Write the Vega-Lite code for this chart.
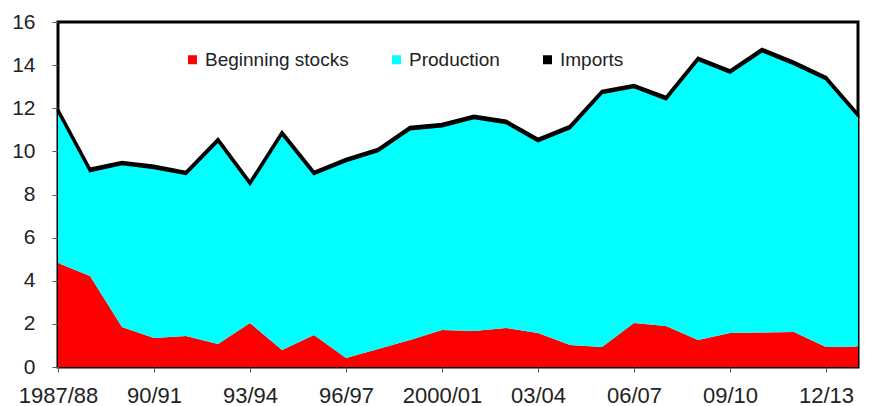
{
  "$schema": "https://vega.github.io/schema/vega-lite/v6.json",
  "width": 800,
  "height": 345,
  "autosize": "none",
  "padding": {"left": 58, "top": 22, "right": 29, "bottom": 39},
  "background": "white",
  "config": {
    "font": "Liberation Sans",
    "view": {"stroke": "black", "strokeWidth": 3}
  },
  "data": {
    "values": [
      {"year": "1987/88", "series": "Beginning stocks", "rank": 1, "value": 4.82},
      {"year": "1987/88", "series": "Production", "rank": 2, "value": 7.03},
      {"year": "1987/88", "series": "Imports", "rank": 3, "value": 0.1},
      {"year": "88/89", "series": "Beginning stocks", "rank": 1, "value": 4.22},
      {"year": "88/89", "series": "Production", "rank": 2, "value": 4.87},
      {"year": "88/89", "series": "Imports", "rank": 3, "value": 0.1},
      {"year": "89/90", "series": "Beginning stocks", "rank": 1, "value": 1.86},
      {"year": "89/90", "series": "Production", "rank": 2, "value": 7.55},
      {"year": "89/90", "series": "Imports", "rank": 3, "value": 0.1},
      {"year": "90/91", "series": "Beginning stocks", "rank": 1, "value": 1.34},
      {"year": "90/91", "series": "Production", "rank": 2, "value": 7.89},
      {"year": "90/91", "series": "Imports", "rank": 3, "value": 0.1},
      {"year": "91/92", "series": "Beginning stocks", "rank": 1, "value": 1.44},
      {"year": "91/92", "series": "Production", "rank": 2, "value": 7.51},
      {"year": "91/92", "series": "Imports", "rank": 3, "value": 0.1},
      {"year": "92/93", "series": "Beginning stocks", "rank": 1, "value": 1.07},
      {"year": "92/93", "series": "Production", "rank": 2, "value": 9.41},
      {"year": "92/93", "series": "Imports", "rank": 3, "value": 0.1},
      {"year": "93/94", "series": "Beginning stocks", "rank": 1, "value": 2.04},
      {"year": "93/94", "series": "Production", "rank": 2, "value": 6.44},
      {"year": "93/94", "series": "Imports", "rank": 3, "value": 0.1},
      {"year": "94/95", "series": "Beginning stocks", "rank": 1, "value": 0.79},
      {"year": "94/95", "series": "Production", "rank": 2, "value": 10.01},
      {"year": "94/95", "series": "Imports", "rank": 3, "value": 0.1},
      {"year": "95/96", "series": "Beginning stocks", "rank": 1, "value": 1.48},
      {"year": "95/96", "series": "Production", "rank": 2, "value": 7.47},
      {"year": "95/96", "series": "Imports", "rank": 3, "value": 0.1},
      {"year": "96/97", "series": "Beginning stocks", "rank": 1, "value": 0.42},
      {"year": "96/97", "series": "Production", "rank": 2, "value": 9.13},
      {"year": "96/97", "series": "Imports", "rank": 3, "value": 0.1},
      {"year": "97/98", "series": "Beginning stocks", "rank": 1, "value": 0.83},
      {"year": "97/98", "series": "Production", "rank": 2, "value": 9.18},
      {"year": "97/98", "series": "Imports", "rank": 3, "value": 0.1},
      {"year": "98/99", "series": "Beginning stocks", "rank": 1, "value": 1.25},
      {"year": "98/99", "series": "Production", "rank": 2, "value": 9.78},
      {"year": "98/99", "series": "Imports", "rank": 3, "value": 0.1},
      {"year": "2000/01", "series": "Beginning stocks", "rank": 1, "value": 1.72},
      {"year": "2000/01", "series": "Production", "rank": 2, "value": 9.45},
      {"year": "2000/01", "series": "Imports", "rank": 3, "value": 0.1},
      {"year": "01/02", "series": "Beginning stocks", "rank": 1, "value": 1.67},
      {"year": "01/02", "series": "Production", "rank": 2, "value": 9.88},
      {"year": "01/02", "series": "Imports", "rank": 3, "value": 0.1},
      {"year": "02/03", "series": "Beginning stocks", "rank": 1, "value": 1.81},
      {"year": "02/03", "series": "Production", "rank": 2, "value": 9.51},
      {"year": "02/03", "series": "Imports", "rank": 3, "value": 0.1},
      {"year": "03/04", "series": "Beginning stocks", "rank": 1, "value": 1.58},
      {"year": "03/04", "series": "Production", "rank": 2, "value": 8.9},
      {"year": "03/04", "series": "Imports", "rank": 3, "value": 0.1},
      {"year": "04/05", "series": "Beginning stocks", "rank": 1, "value": 1.02},
      {"year": "04/05", "series": "Production", "rank": 2, "value": 10.06},
      {"year": "04/05", "series": "Imports", "rank": 3, "value": 0.1},
      {"year": "05/06", "series": "Beginning stocks", "rank": 1, "value": 0.93},
      {"year": "05/06", "series": "Production", "rank": 2, "value": 11.78},
      {"year": "05/06", "series": "Imports", "rank": 3, "value": 0.1},
      {"year": "06/07", "series": "Beginning stocks", "rank": 1, "value": 2.04},
      {"year": "06/07", "series": "Production", "rank": 2, "value": 10.94},
      {"year": "06/07", "series": "Imports", "rank": 3, "value": 0.1},
      {"year": "07/08", "series": "Beginning stocks", "rank": 1, "value": 1.9},
      {"year": "07/08", "series": "Production", "rank": 2, "value": 10.52},
      {"year": "07/08", "series": "Imports", "rank": 3, "value": 0.1},
      {"year": "08/09", "series": "Beginning stocks", "rank": 1, "value": 1.25},
      {"year": "08/09", "series": "Production", "rank": 2, "value": 12.99},
      {"year": "08/09", "series": "Imports", "rank": 3, "value": 0.1},
      {"year": "09/10", "series": "Beginning stocks", "rank": 1, "value": 1.58},
      {"year": "09/10", "series": "Production", "rank": 2, "value": 12.07},
      {"year": "09/10", "series": "Imports", "rank": 3, "value": 0.1},
      {"year": "10/11", "series": "Beginning stocks", "rank": 1, "value": 1.6},
      {"year": "10/11", "series": "Production", "rank": 2, "value": 13.05},
      {"year": "10/11", "series": "Imports", "rank": 3, "value": 0.1},
      {"year": "11/12", "series": "Beginning stocks", "rank": 1, "value": 1.62},
      {"year": "11/12", "series": "Production", "rank": 2, "value": 12.43},
      {"year": "11/12", "series": "Imports", "rank": 3, "value": 0.1},
      {"year": "12/13", "series": "Beginning stocks", "rank": 1, "value": 0.93},
      {"year": "12/13", "series": "Production", "rank": 2, "value": 12.42},
      {"year": "12/13", "series": "Imports", "rank": 3, "value": 0.1},
      {"year": "13/14", "series": "Beginning stocks", "rank": 1, "value": 0.95},
      {"year": "13/14", "series": "Production", "rank": 2, "value": 10.69},
      {"year": "13/14", "series": "Imports", "rank": 3, "value": 0.1}
    ]
  },
  "mark": {"type": "area", "strokeWidth": 2.5, "strokeJoin": "miter"},
  "encoding": {
    "x": {
      "field": "year",
      "type": "ordinal",
      "sort": null,
      "scale": {"type": "point", "padding": 0},
      "axis": {
        "title": null,
        "values": ["1987/88", "90/91", "93/94", "96/97", "2000/01", "03/04", "06/07", "09/10", "12/13"],
        "labelAngle": 0,
        "labelFontSize": 22,
        "labelColor": "#222222",
        "labelPadding": 13,
        "tickSize": 5,
        "tickColor": "#555555",
        "domain": false,
        "grid": false
      }
    },
    "y": {
      "field": "value",
      "type": "quantitative",
      "stack": "zero",
      "scale": {"domain": [0, 16], "nice": false},
      "axis": {
        "title": null,
        "values": [0, 2, 4, 6, 8, 10, 12, 14, 16],
        "labelFontSize": 21,
        "labelColor": "#222222",
        "labelPadding": 17,
        "tickSize": 6,
        "tickColor": "#555555",
        "domain": false,
        "grid": false
      }
    },
    "order": {"field": "rank", "type": "quantitative", "sort": "ascending"},
    "color": {
      "field": "series",
      "type": "nominal",
      "scale": {
        "domain": ["Beginning stocks", "Production", "Imports"],
        "range": ["#ff0000", "#00ffff", "#000000"]
      },
      "legend": {
        "title": null,
        "orient": "none",
        "legendX": 125,
        "legendY": 28,
        "direction": "horizontal",
        "symbolType": "square",
        "symbolSize": 81,
        "symbolStrokeWidth": 0,
        "labelFontSize": 19,
        "labelColor": "#222222",
        "labelOffset": 3,
        "columnPadding": 38
      }
    },
    "stroke": {
      "field": "series",
      "type": "nominal",
      "scale": {
        "domain": ["Beginning stocks", "Production", "Imports"],
        "range": ["transparent", "transparent", "#000000"]
      },
      "legend": null
    }
  }
}
